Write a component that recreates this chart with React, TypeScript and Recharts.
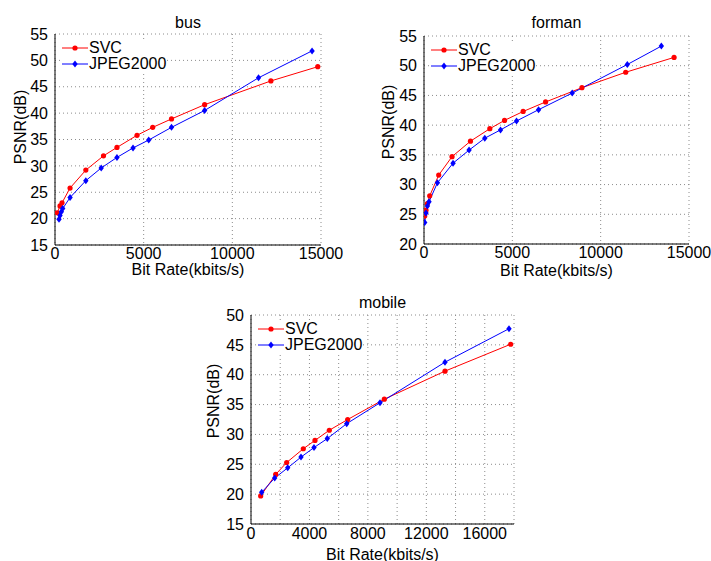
import { LineChart, Line, XAxis, YAxis, CartesianGrid, Legend, Label } from "recharts";

// ---- data ----
const seriesNames = ["SVC", "JPEG2000"];

const busSvcRate = [130, 283, 396, 849, 1738, 2735, 3494, 4626, 5510, 6570, 8437, 12174, 14816];
const busSvcPsnr = [21.1, 22.4, 23.0, 25.8, 29.2, 31.9, 33.5, 35.8, 37.3, 38.9, 41.6, 46.1, 48.8];
const busJpegRate = [226, 283, 358, 434, 849, 1738, 2605, 3494, 4400, 5284, 6570, 8437, 11478, 14496];
const busJpegPsnr = [19.9, 20.6, 21.3, 21.9, 24.0, 27.2, 29.6, 31.6, 33.4, 34.9, 37.3, 40.5, 46.7, 51.8];

const formanSvcRate = [40, 113, 193, 323, 833, 1587, 2630, 3725, 4558, 5612, 6882, 8940, 11417, 14155];
const formanSvcPsnr = [24.7, 25.7, 26.8, 28.1, 31.6, 34.7, 37.3, 39.4, 40.8, 42.3, 43.9, 46.3, 48.9, 51.4];
const formanJpegRate = [40, 113, 193, 283, 760, 1644, 2551, 3441, 4331, 5238, 6485, 8390, 11508, 13435];
const formanJpegPsnr = [23.6, 25.2, 26.4, 27.1, 30.3, 33.6, 35.8, 37.8, 39.2, 40.7, 42.6, 45.4, 50.2, 53.3];

const mobileSvcRate = [663, 1690, 2443, 3580, 4380, 5359, 6617, 9125, 13277, 17772];
const mobileSvcPsnr = [19.7, 23.3, 25.3, 27.6, 29.0, 30.7, 32.5, 35.9, 40.6, 45.1];
const mobileJpegRate = [732, 1622, 2512, 3422, 4312, 5222, 6550, 8829, 13277, 17658];
const mobileJpegPsnr = [20.3, 22.7, 24.4, 26.2, 27.8, 29.3, 31.8, 35.3, 42.1, 47.7];

const rateTicks15k = [0, 5000, 10000, 15000];
const rateTicks18k = [0, 2000, 4000, 6000, 8000, 10000, 12000, 14000, 16000, 18000];
const busPsnrTicks = [15, 20, 25, 30, 35, 40, 45, 50, 55];
const formanPsnrTicks = [20, 25, 30, 35, 40, 45, 50, 55];
const mobilePsnrTicks = [15, 20, 25, 30, 35, 40, 45, 50];

const FONT = '"Liberation Sans", Arial, Helvetica, sans-serif';
const RED = "#ff0000";
const BLUE = "#0000ff";

const zip = (rate: number[], psnr: number[]) => rate.map((r, i) => ({ rate: r, psnr: psnr[i] }));

function RedDot(props: any) {
  const { cx, cy, index } = props;
  return <circle key={`s-${index}`} cx={cx} cy={cy} r={2.6} fill={RED} stroke="none" />;
}

function BlueDiamond(props: any) {
  const { cx, cy, index } = props;
  return (
    <path
      key={`j-${index}`}
      d={`M${cx},${cy - 3.5}L${cx + 2.7},${cy}L${cx},${cy + 3.5}L${cx - 2.7},${cy}Z`}
      fill={BLUE}
    />
  );
}

function LegendBox() {
  const row = (name: string, color: string, diamond: boolean) => (
    <div key={name} style={{ display: "flex", alignItems: "center", height: 16 }}>
      <svg width={26} height={16} style={{ display: "block" }}>
        <line x1={0} x2={26} y1={8} y2={8} stroke={color} strokeWidth={1} />
        {diamond ? (
          <path d="M13,4.5L15.7,8L13,11.5L10.3,8Z" fill={color} />
        ) : (
          <circle cx={13} cy={8} r={2.6} fill={color} />
        )}
      </svg>
      <span style={{ fontSize: 16, lineHeight: "16px", color: "#000", marginLeft: 1, fontFamily: FONT }}>{name}</span>
    </div>
  );
  return (
    <div style={{ background: "#fff" }}>
      {row(seriesNames[0], RED, false)}
      {row(seriesNames[1], BLUE, true)}
    </div>
  );
}

interface PanelProps {
  title: string;
  svcRate: number[];
  svcPsnr: number[];
  jpegRate: number[];
  jpegPsnr: number[];
  xTicks: number[];
  labelStep: number;
  yTicks: number[];
  left: number;
  top: number;
  width: number;
  height: number;
  margin: { top: number; right: number; bottom: number; left: number };
  titleY: number;
  yLabelX: number;
  yLabelY: number;
  xLabelY: number;
  tickGap: number;
}

function Panel(p: PanelProps) {
  const svc = zip(p.svcRate, p.svcPsnr);
  const jpeg = zip(p.jpegRate, p.jpegPsnr);
  const xDomain = [p.xTicks[0], p.xTicks[p.xTicks.length - 1]];
  const yDomain = [p.yTicks[0], p.yTicks[p.yTicks.length - 1]];
  const tickStyle = { fontSize: 16, fill: "#000", fontFamily: FONT };
  const plotLeft = p.margin.left + 45;
  const midX = plotLeft + (p.width - plotLeft - p.margin.right) / 2;

  // title, x label and y label drawn through one label on the left axis
  const texts = () => (
    <g fontFamily={FONT} fontSize={16} fill="#000">
      <text x={midX} y={p.titleY} textAnchor="middle" dominantBaseline="central">{p.title}</text>
      <text x={midX} y={p.xLabelY} textAnchor="middle" dominantBaseline="central">Bit Rate(kbits/s)</text>
      <text x={p.yLabelX} y={p.yLabelY} transform={`rotate(-90 ${p.yLabelX} ${p.yLabelY})`}
        textAnchor="middle" dominantBaseline="central">PSNR(dB)</text>
    </g>
  );

  return (
    <div style={{ position: "absolute", left: p.left, top: p.top }}>
      <LineChart width={p.width} height={p.height} margin={p.margin}>
        <CartesianGrid stroke="#8c8c8c" strokeDasharray="1 3" />
        <XAxis
          dataKey="rate"
          type="number"
          domain={xDomain}
          ticks={p.xTicks}
          interval={0}
          allowDataOverflow
          tickFormatter={(v: number) => (v % p.labelStep === 0 ? String(v) : "")}
          tick={tickStyle}
          tickLine={false}
          tickSize={1}
          tickMargin={p.tickGap}
          axisLine={{ stroke: "#000" }}
          height={25}
        />
        <XAxis xAxisId="top" orientation="top" type="number" domain={xDomain} ticks={p.xTicks}
          tick={false} tickLine={false} height={0} axisLine={{ stroke: "#000" }} />
        <YAxis
          type="number"
          domain={yDomain}
          ticks={p.yTicks}
          interval={0}
          allowDataOverflow
          tick={tickStyle}
          tickLine={false}
          tickSize={5}
          tickMargin={2}
          axisLine={{ stroke: "#000" }}
          width={45}
        >
          <Label content={texts} />
        </YAxis>
        <YAxis yAxisId="right" orientation="right" type="number" domain={yDomain} ticks={p.yTicks}
          tick={false} tickLine={false} width={0} axisLine={{ stroke: "#000" }} />
        <Legend
          layout="vertical"
          align="center"
          verticalAlign="middle"
          content={() => <LegendBox />}
          wrapperStyle={{ left: plotLeft + 7, top: p.margin.top + 6, width: "auto", height: "auto" }}
        />
        <Line data={svc} dataKey="psnr" name={seriesNames[0]} type="linear" stroke={RED} strokeWidth={1}
          dot={RedDot} activeDot={false} isAnimationActive={false} />
        <Line data={jpeg} dataKey="psnr" name={seriesNames[1]} type="linear" stroke={BLUE} strokeWidth={1}
          dot={BlueDiamond} activeDot={false} isAnimationActive={false} />
      </LineChart>
    </div>
  );
}

export default function App() {
  return (
    <div style={{ position: "absolute", left: 0, top: 0, width: 711, height: 561, background: "#fff", fontFamily: FONT, overflow: "hidden" }}>
      <Panel
        title="bus"
        svcRate={busSvcRate} svcPsnr={busSvcPsnr} jpegRate={busJpegRate} jpegPsnr={busJpegPsnr}
        xTicks={rateTicks15k} labelStep={5000} yTicks={busPsnrTicks}
        left={0} top={0} width={345} height={280}
        margin={{ top: 34, right: 24, bottom: 10, left: 10 }}
        titleY={22} yLabelX={20} yLabelY={127} xLabelY={269} tickGap={2}
      />
      <Panel
        title="forman"
        svcRate={formanSvcRate} svcPsnr={formanSvcPsnr} jpegRate={formanJpegRate} jpegPsnr={formanJpegPsnr}
        xTicks={rateTicks15k} labelStep={5000} yTicks={formanPsnrTicks}
        left={355} top={0} width={356} height={280}
        margin={{ top: 36, right: 22, bottom: 11, left: 24 }}
        titleY={22} yLabelX={33} yLabelY={122} xLabelY={270} tickGap={2}
      />
      <Panel
        title="mobile"
        svcRate={mobileSvcRate} svcPsnr={mobileSvcPsnr} jpegRate={mobileJpegRate} jpegPsnr={mobileJpegPsnr}
        xTicks={rateTicks18k} labelStep={4000} yTicks={mobilePsnrTicks}
        left={180} top={280} width={360} height={281}
        margin={{ top: 35, right: 26, bottom: 12, left: 26 }}
        titleY={22} yLabelX={33} yLabelY={121} xLabelY={274} tickGap={3}
      />
    </div>
  );
}
